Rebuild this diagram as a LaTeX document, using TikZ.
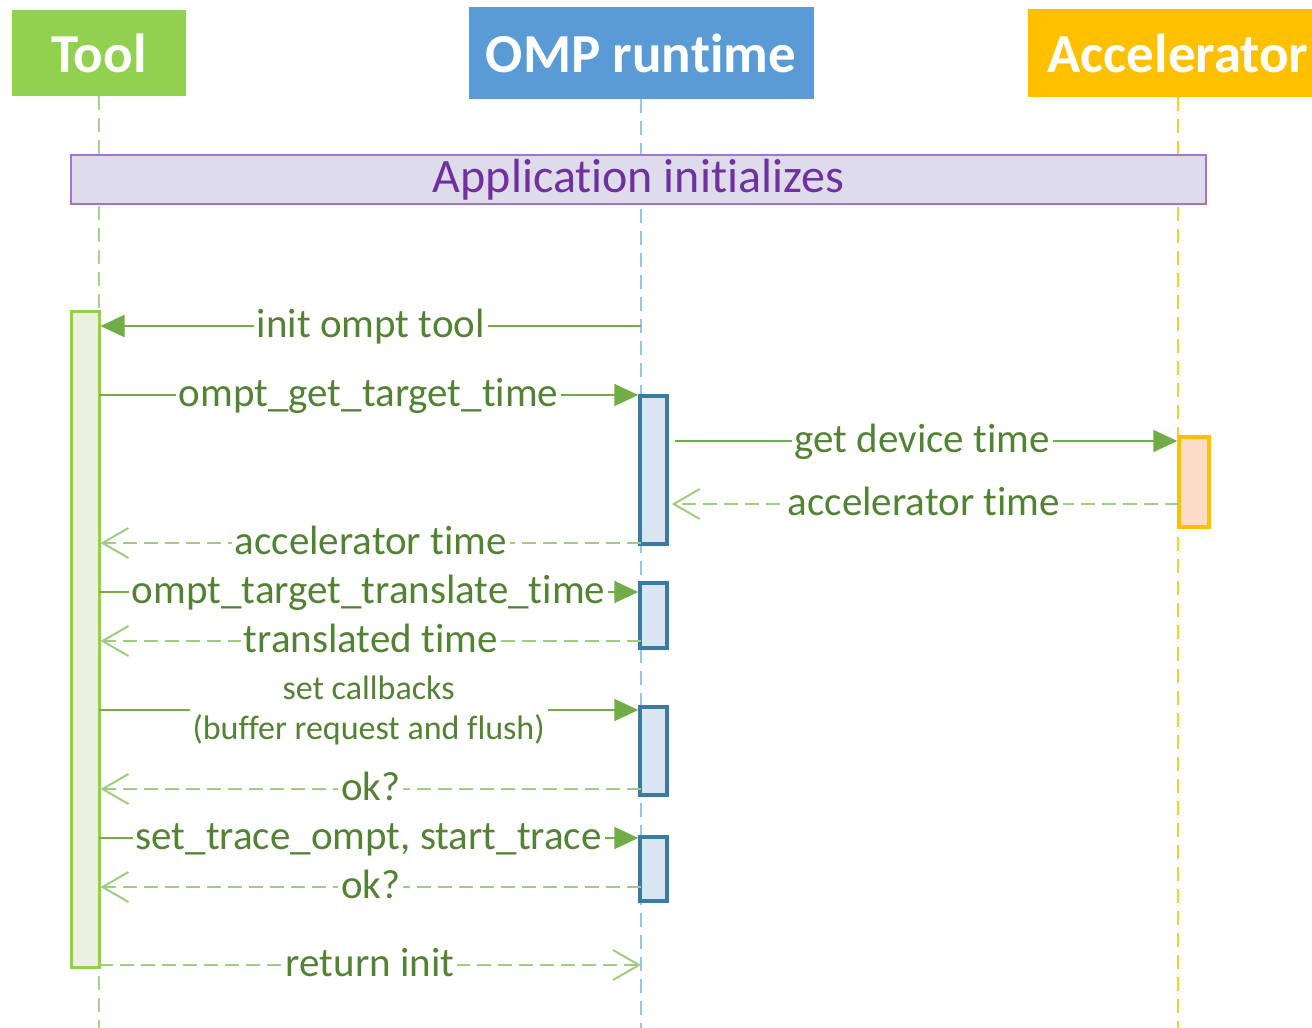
\documentclass[tikz,border=0pt]{standalone}
\usepackage{fontspec}
\setmainfont{Carlito}[Ligatures={NoCommon}]
\usetikzlibrary{arrows.meta}

\definecolor{toolgreen}{HTML}{92D050}
\definecolor{ompblue}{HTML}{5B9BD5}
\definecolor{accyellow}{HTML}{FFC000}
\definecolor{toolline}{HTML}{A9D18E}
\definecolor{ompline}{HTML}{9DC3E6}
\definecolor{appfill}{HTML}{DEDCEA}
\definecolor{appborder}{HTML}{A374CF}
\definecolor{apptext}{HTML}{7030A0}
\definecolor{msgtext}{HTML}{548235}
\definecolor{msgsolid}{HTML}{70AD47}
\definecolor{msgdash}{HTML}{9FCB82}
\definecolor{toolbarfill}{HTML}{EBF1DE}
\definecolor{ompbarborder}{HTML}{3A7BA2}
\definecolor{ompbarfill}{HTML}{D7E6F0}
\definecolor{accbarfill}{HTML}{FCDCC8}

\begin{document}
\begin{tikzpicture}[x=1pt,y=-1pt,
  head/.style={rectangle, inner sep=0pt, text=white,
    font=\fontsize{55}{60}\selectfont\bfseries},
  lifeline/.style={line width=2.5pt, dash pattern=on 14pt off 8pt},
  appbox/.style={rectangle, draw=appborder, fill=appfill, line width=2pt,
    minimum width=1135, minimum height=49, inner sep=0pt, text=apptext,
    font=\fontsize{48}{52}\selectfont},
  toolbar/.style={rectangle, draw=toolgreen, fill=toolbarfill, line width=3pt,
    minimum width=28, inner sep=0pt},
  ompbar/.style={rectangle, draw=ompbarborder, fill=ompbarfill, line width=3.5pt,
    minimum width=27, inner sep=0pt},
  accbar/.style={rectangle, draw=accyellow, fill=accbarfill, line width=3.5pt,
    minimum width=30, inner sep=0pt},
  call/.style={draw=msgsolid, line width=2pt,
    -{Triangle[length=24pt,width=22pt]}},
  reply/.style={draw=msgdash, line width=2pt, dash pattern=on 14pt off 7pt,
    -{Straight Barb[length=26pt,width=30pt,line width=2pt]}},
  lbl/.style={fill=white, text=msgtext, inner xsep=3pt, inner ysep=0pt,
    font=\fontsize{41}{49}\selectfont, text height=30pt, text depth=8pt},
  lbltwo/.style={fill=white, text=msgtext, inner xsep=3pt, inner ysep=0pt,
    align=center, font=\fontsize{34}{40}\selectfont}
]
\useasboundingbox (0,0) rectangle (1312,1028);
\clip (0,0) rectangle (1312,1028);

% participant headers
\node[head, fill=toolgreen, minimum width=174, minimum height=86] (tool) at (99,53) {Tool};
\node[head, fill=ompblue, minimum width=345, minimum height=92] (omp) at (641,53) {OMP runtime};
\node[head, fill=accyellow, minimum width=300, minimum height=88] (acc) at (1178,53) {Accelerator};

% lifelines
\coordinate (toolend) at (99,1028);
\coordinate (ompend) at (641,1028);
\coordinate (accend) at (1178,1028);
\draw[lifeline, draw=toolline] (tool.south) -- (toolend);
\draw[lifeline, draw=ompline] (omp.south) -- (ompend);
\draw[lifeline, draw=accyellow!80] (acc.south) -- (accend);

% initialization banner
\node[appbox] (app) at (638.5,179.5) {Application initializes};

% activation bars
\node[toolbar, minimum height=656] (tb) at (85,639) {};
\node[ompbar, minimum height=148] (ob1) at (653.5,470) {};
\node[ompbar, minimum height=65] (ob2) at (653.5,615.5) {};
\node[ompbar, minimum height=88] (ob3) at (653.5,751) {};
\node[ompbar, minimum height=64] (ob4) at (653.5,869) {};
\node[accbar, minimum height=90] (ab) at (1194,482) {};

% message rows
\coordinate (r1) at (641,326);
\coordinate (r2) at (99,395);
\coordinate (r3) at (667,441);
\coordinate (r4) at (1179,504);
\coordinate (r5) at (641,543);
\coordinate (r6) at (99,592);
\coordinate (r7) at (641,641);
\coordinate (r8) at (99,710);
\coordinate (r9) at (641,789);
\coordinate (r10) at (99,838);
\coordinate (r11) at (641,887);
\coordinate (r12) at (99,965);

\draw[call] (r1) -- node[lbl] {init ompt tool} (tb.east |- r1);
\draw[call] (r2) -- node[lbl] {ompt\_get\_target\_time} (ob1.west |- r2);
\draw[call, shorten <=8pt] (r3) -- node[lbl] {get device time} (ab.west |- r3);
\draw[reply, shorten >=3pt] (r4) -- node[lbl] {accelerator time} (ob1.east |- r4);
\draw[reply] (r5) -- node[lbl] {accelerator time} (tb.east |- r5);
\draw[call] (r6) -- node[lbl] {ompt\_target\_translate\_time} (ob2.west |- r6);
\draw[reply] (r7) -- node[lbl] {translated time} (tb.east |- r7);
\draw[call] (r8) -- node[lbltwo] {set callbacks\\(buffer request and flush)} (ob3.west |- r8);
\draw[reply] (r9) -- node[lbl] {ok?} (tb.east |- r9);
\draw[call] (r10) -- node[lbl] {set\_trace\_ompt, start\_trace} (ob4.west |- r10);
\draw[reply] (r11) -- node[lbl] {ok?} (tb.east |- r11);
\draw[reply] (r12) -- node[lbl] {return init} (ompend |- r12);
\end{tikzpicture}
\end{document}
